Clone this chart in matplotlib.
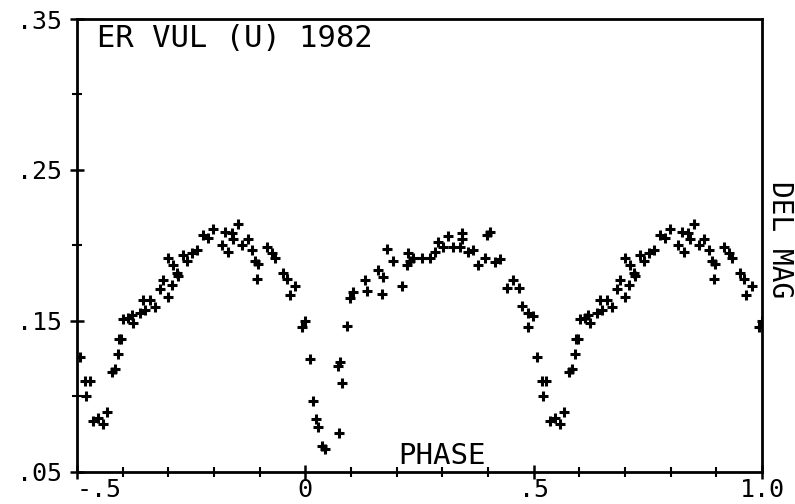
import numpy as np
import matplotlib.pyplot as plt
from matplotlib.ticker import MultipleLocator, FixedLocator

# one cycle of the phased light curve, phase -0.5 .. 0.5
phase = [-0.493, -0.482, -0.472, -0.480, -0.465, -0.454, -0.443, -0.434,
         -0.423, -0.417, -0.410, -0.408, -0.404, -0.399, -0.388, -0.377,
         -0.380, -0.362, -0.351, -0.340, -0.355, -0.329, -0.318, -0.312,
         -0.301, -0.292, -0.301, -0.290, -0.281, -0.279, -0.268, -0.259,
         -0.248, -0.237, -0.224, -0.213, -0.202, -0.176, -0.161, -0.148,
         -0.183, -0.170, -0.158, -0.139, -0.126, -0.117, -0.110, -0.104,
         -0.106, -0.084, -0.073, -0.066, -0.049, -0.040, -0.034, -0.023,
         -0.007, 0.000,
         0.010, 0.017, 0.023, 0.028, 0.036, 0.043, 0.074, 0.080,
         0.076, 0.071, 0.091, 0.098, 0.104, 0.131, 0.135, 0.159,
         0.170, 0.168, 0.179, 0.192, 0.212, 0.225, 0.229, 0.223,
         0.236, 0.255, 0.273, 0.284, 0.290, 0.301, 0.312, 0.323,
         0.339, 0.343, 0.343, 0.356, 0.367, 0.378, 0.393, 0.404,
         0.398, 0.415, 0.426, 0.455, 0.442, 0.468, 0.474, 0.488,
         0.499, 0.488]
delmag = [0.126, 0.110, 0.110, 0.100, 0.084, 0.086, 0.082, 0.090,
          0.116, 0.118, 0.128, 0.138, 0.138, 0.151, 0.152, 0.149,
          0.154, 0.155, 0.157, 0.164, 0.164, 0.159, 0.171, 0.177,
          0.166, 0.174, 0.192, 0.187, 0.182, 0.180, 0.194, 0.190,
          0.195, 0.197, 0.207, 0.205, 0.211, 0.209, 0.208, 0.214,
          0.200, 0.196, 0.204, 0.200, 0.204, 0.197, 0.190, 0.188,
          0.178, 0.199, 0.195, 0.192, 0.182, 0.178, 0.167, 0.173,
          0.146, 0.150,
          0.125, 0.097, 0.085, 0.080, 0.067, 0.065, 0.076, 0.109,
          0.123, 0.120, 0.147, 0.165, 0.169, 0.177, 0.170, 0.184,
          0.179, 0.168, 0.198, 0.190, 0.173, 0.195, 0.190, 0.187,
          0.192, 0.192, 0.192, 0.196, 0.202, 0.199, 0.206, 0.199,
          0.199, 0.208, 0.204, 0.196, 0.197, 0.187, 0.192, 0.209,
          0.207, 0.189, 0.191, 0.177, 0.172, 0.172, 0.160, 0.155,
          0.153, 0.146]

x_ticks = [-0.5, 0.0, 0.5, 1.0]
x_labels = ['-.5', '0', '.5', '1.0']
y_ticks = [0.05, 0.15, 0.25, 0.35]
y_labels = ['.05', '.15', '.25', '.35']

title = 'ER VUL (U) 1982'
FONT = 'DejaVu Sans Mono'
FS = 18

ph = np.array(phase)
dm = np.array(delmag)
wrap = ph <= 0
x = np.concatenate([ph, ph[wrap] + 1.0])
y = np.concatenate([dm, dm[wrap]])

fig = plt.figure(figsize=(7.95, 5.04), dpi=100)
ax = fig.add_axes([0.0969, 0.0635, 0.8616, 0.8988])

ax.plot(x, y, linestyle='none', marker='+', markersize=7, mew=2.2, color='black')

ax.set_xlim(-0.5, 1.0)
ax.set_ylim(0.05, 0.35)

for s in ax.spines.values():
    s.set_linewidth(2.0)

ax.xaxis.set_major_locator(FixedLocator(x_ticks))
ax.xaxis.set_minor_locator(MultipleLocator(0.1))
ax.yaxis.set_major_locator(FixedLocator(y_ticks))
ax.yaxis.set_minor_locator(MultipleLocator(0.05))
ax.set_xticklabels(x_labels, fontfamily=FONT, fontsize=FS)
ax.set_yticklabels(y_labels, fontfamily=FONT, fontsize=FS)
ax.get_xticklabels()[0].set_horizontalalignment('left')

ax.tick_params(axis='both', which='major', direction='inout', length=10, width=1.8)
ax.tick_params(axis='both', which='minor', direction='inout', length=7, width=1.5)
ax.tick_params(axis='x', which='major', pad=-1)
ax.tick_params(axis='y', which='major', pad=6)

ax.text(0.029, 0.988, title, transform=ax.transAxes, ha='left', va='top',
        fontfamily=FONT, fontsize=FS + 4)
ax.text(0.533, 0.004, 'PHASE', transform=ax.transAxes, ha='center', va='bottom',
        fontfamily=FONT, fontsize=FS + 3)
fig.text(0.981, 0.524, 'DEL MAG', rotation=270, ha='center', va='center',
         fontfamily=FONT, fontsize=FS + 2)

fig.savefig('out.png', dpi=100)
